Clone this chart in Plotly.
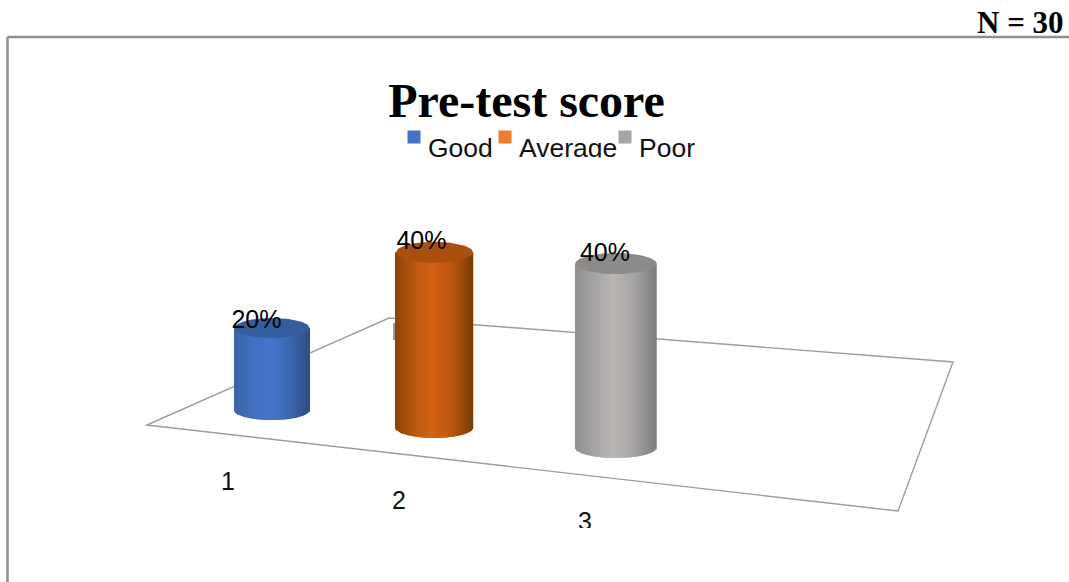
import numpy as np
import plotly.graph_objects as go

# --- data ---
categories = ["1", "2", "3"]
series_names = ["Good", "Average", "Poor"]
values = [20, 40, 40]
value_labels = ["20%", "40%", "40%"]

# --- drawing constants (pixel-based axes) ---
W, H = 1069, 582
cx = [272, 434.5, 616]
rx = [37.5, 38.5, 40.5]
ry = [10, 10.5, 10.5]
floor_y = [410, 427.5, 447.5]
px_per_pct = [4.1, 4.38, 4.6]
stops = [
    ["#3a64a8", "#4370c2", "#4675cb", "#3e69b4", "#2d4f85"],
    ["#8a4409", "#c05b11", "#d46215", "#bd5810", "#7a3c08"],
    ["#8f8f8f", "#aaa8a7", "#bab7b5", "#a8a6a5", "#7f7e7d"],
]
cap_colors = ["#355d9c", "#a9500e", "#8c8b8a"]
legend_colors = ["#4472C4", "#ED7D31", "#A5A5A5"]


def hex_rgb(h):
    return np.array([int(h[i:i + 2], 16) for i in (1, 3, 5)], dtype=float)


def ramp(cols, t):
    pos = np.array([0, 0.28, 0.48, 0.72, 1.0])
    arr = np.array([hex_rgb(c) for c in cols])
    return "rgb(%d,%d,%d)" % tuple(np.interp(t, pos, arr[:, i]) for i in range(3))


fig = go.Figure()
N = 64
for i, cat in enumerate(categories):
    u = (np.arange(N) + 0.5) / N * 2 - 1
    arc = ry[i] * np.sqrt(1 - u ** 2)
    h = values[i] * px_per_pct[i]
    fig.add_bar(
        x=cx[i] + u * rx[i],
        base=floor_y[i] + arc,
        y=-(h + arc),
        width=2 * rx[i] / N + 0.5,
        marker=dict(color=[ramp(stops[i], (v + 1) / 2) for v in u], line_width=0),
        name=series_names[i],
        showlegend=False,
        hoverinfo="skip",
    )
    th = np.linspace(0, 2 * np.pi, 80)
    fig.add_scatter(
        x=cx[i] + rx[i] * np.cos(th),
        y=floor_y[i] - h + ry[i] * np.sin(th),
        mode="lines",
        fill="toself",
        fillcolor=cap_colors[i],
        line=dict(width=0, color=cap_colors[i]),
        showlegend=False,
        hoverinfo="skip",
    )

# value labels
fig.add_scatter(
    x=[256.5, 421.5, 605],
    y=[322, 243, 255],
    mode="text",
    text=value_labels,
    textposition="middle center",
    textfont=dict(family="Liberation Sans", size=25, color="#000000"),
    showlegend=False,
    hoverinfo="skip",
)
# category labels
fig.add_scatter(
    x=[228, 399, 585],
    y=[484, 503, 524],
    mode="text",
    text=categories,
    textposition="middle center",
    textfont=dict(family="Liberation Sans", size=25, color="#111111"),
    showlegend=False,
    hoverinfo="skip",
)
# legend
fig.add_scatter(
    x=[414, 505, 625],
    y=[137, 137, 137],
    mode="markers",
    marker=dict(symbol="square", size=13, color=legend_colors, line_width=0),
    showlegend=False,
    hoverinfo="skip",
)
fig.add_scatter(
    x=[428, 519, 639],
    y=[150, 150, 150],
    mode="text",
    text=series_names,
    textposition="middle right",
    textfont=dict(family="Liberation Sans", size=26.5, color="#111111"),
    showlegend=False,
    hoverinfo="skip",
)

fig.update_layout(
    width=W,
    height=H,
    margin=dict(l=0, r=0, t=0, b=0),
    paper_bgcolor="white",
    plot_bgcolor="white",
    xaxis=dict(range=[0, W], visible=False, fixedrange=True),
    yaxis=dict(range=[H, 0], visible=False, fixedrange=True),
    barmode="overlay",
    title=dict(
        text="<b>Pre-test score</b>",
        x=526.5 / W,
        xanchor="center",
        y=1 - 100 / H,
        yanchor="middle",
        font=dict(family="Liberation Serif", size=48, color="#000000"),
    ),
    shapes=[
        # floor
        dict(type="path", path="M147,425 L389,318 L953,362 L898,511 Z", xref="x", yref="y",
             line=dict(color="#9c9c9c", width=1.4), fillcolor="rgba(0,0,0,0)", layer="below"),
        # small back element
        dict(type="rect", x0=393, x1=399, y0=323, y1=340, xref="x", yref="y",
             line_width=0, fillcolor="#9a9a9a", layer="below"),
        # frame
        dict(type="line", x0=7.5, x1=W, y0=37, y1=37, xref="x", yref="y",
             line=dict(color="#8f8f8f", width=2.5), layer="below"),
        dict(type="line", x0=7.5, x1=7.5, y0=37, y1=H, xref="x", yref="y",
             line=dict(color="#8f8f8f", width=2.5), layer="below"),
        # crops of the legend and axis label
        dict(type="rect", x0=400, x1=720, y0=157.5, y1=175, xref="x", yref="y",
             line_width=0, fillcolor="white", layer="above"),
        dict(type="rect", x0=560, x1=610, y0=528, y1=545, xref="x", yref="y",
             line_width=0, fillcolor="white", layer="above"),
    ],
    annotations=[
        dict(text="<b>N = 30</b>", x=1066, y=22, xref="x", yref="y", xanchor="right", yanchor="middle",
             showarrow=False, font=dict(family="Liberation Serif", size=31, color="#000000")),
    ],
)
fig.write_html(
    "out.html",
    config={"displayModeBar": False},
    post_script="document.body.style.margin='0';document.documentElement.style.overflow='hidden';",
)
